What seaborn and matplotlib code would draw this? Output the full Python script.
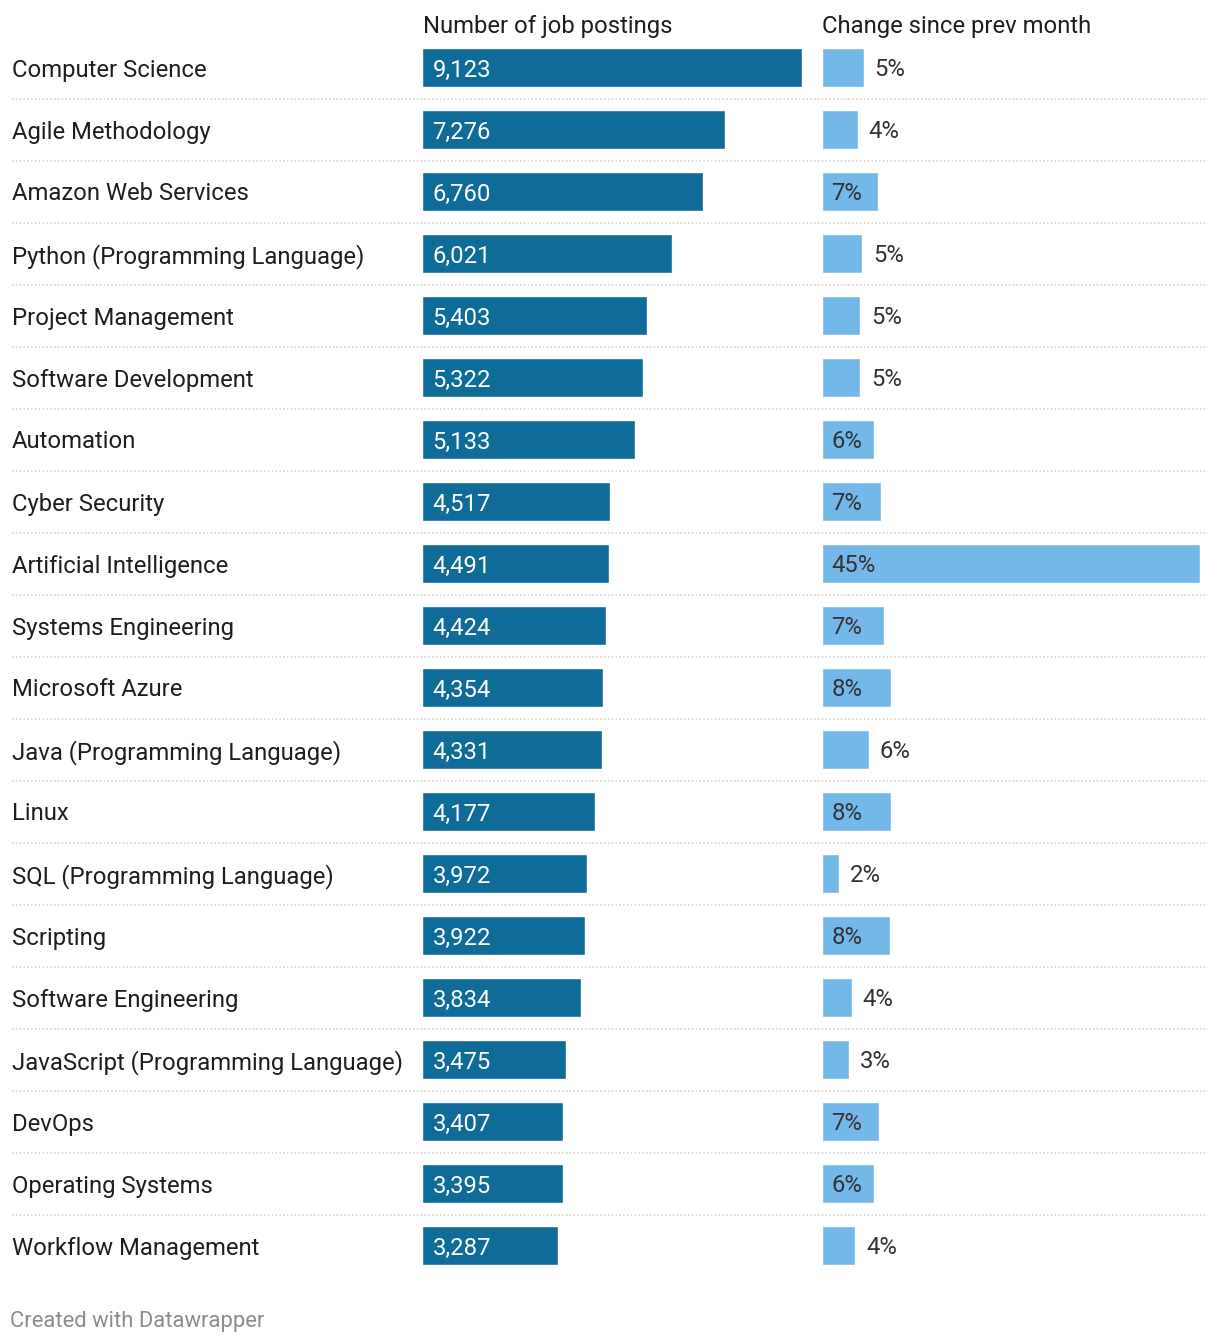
import pandas as pd
import matplotlib.pyplot as plt
import seaborn as sns

# ==== Data ====
skills = [
    "Computer Science", "Agile Methodology", "Amazon Web Services",
    "Python (Programming Language)", "Project Management", "Software Development",
    "Automation", "Cyber Security", "Artificial Intelligence", "Systems Engineering",
    "Microsoft Azure", "Java (Programming Language)", "Linux",
    "SQL (Programming Language)", "Scripting", "Software Engineering",
    "JavaScript (Programming Language)", "DevOps", "Operating Systems",
    "Workflow Management",
]
postings = [9123, 7276, 6760, 6021, 5403, 5322, 5133, 4517, 4491, 4424,
            4354, 4331, 4177, 3972, 3922, 3834, 3475, 3407, 3395, 3287]
change = [5.0, 4.3, 6.7, 4.8, 4.6, 4.6, 6.2, 7.1, 45.0, 7.4,
          8.3, 5.6, 8.3, 2.1, 8.1, 3.6, 3.3, 6.9, 6.2, 4.0]

df = pd.DataFrame({"skill": skills, "postings": postings, "change": change})

# ==== Style ====
sns.set_style("white")
plt.rcParams['font.family'] = ['Roboto', 'DejaVu Sans']
DARK = "#0f6b97"
LIGHT = "#74b8ea"
TXT = "#1e1e1e"
FS = 17.2

W, H = 1220, 1342
fig = plt.figure(figsize=(W / 100, H / 100), dpi=100)

# row band: top at 37px, bottom at 1277px
top_px, bot_px = 36.5, 1276.5
bottom = 1 - bot_px / H
height = (bot_px - top_px) / H

def px_axes(x0, x1):
    return fig.add_axes([x0 / W, bottom, (x1 - x0) / W, height])

# overlay for labels + separators
ax_bg = px_axes(12, 1208)
ax_bg.set_xlim(0, 1)
ax_bg.set_ylim(len(skills) - 0.5, -0.5)
for i in range(len(skills) - 1):
    ax_bg.axhline(i + 0.5, color="#cccccc", lw=1.1, ls=(0, (1, 1.5)))
for i, s in enumerate(skills):
    ax_bg.text(0, i, s, ha="left", va="center_baseline", fontsize=FS, color=TXT)
ax_bg.axis("off")

# ==== Number of job postings ====
ax1 = px_axes(421.5, 801.5)
sns.barplot(data=df, x="postings", y="skill", ax=ax1, color=DARK,
            saturation=1, width=0.645, orient="h")
ax1.set_xlim(0, max(postings))
ax1.set_ylim(len(skills) - 0.5, -0.5)
for i, v in enumerate(postings):
    ax1.annotate(f"{v:,}", (0, i), xytext=(8, 0), textcoords="offset points",
                 ha="left", va="center_baseline", fontsize=FS, color="white")

# ==== Change since prev month ====
ax2 = px_axes(821.5, 1199.5)
sns.barplot(data=df, x="change", y="skill", ax=ax2, color=LIGHT,
            saturation=1, width=0.645, orient="h")
ax2.set_xlim(0, max(change))
ax2.set_ylim(len(skills) - 0.5, -0.5)
for i, v in enumerate(change):
    if v >= 6:
        ax2.annotate(f"{v:.0f}%", (0, i), xytext=(7, 0), textcoords="offset points",
                     ha="left", va="center_baseline", fontsize=FS, color="#333333")
    else:
        ax2.annotate(f"{v:.0f}%", (v, i), xytext=(8, 0), textcoords="offset points",
                     ha="left", va="center_baseline", fontsize=FS, color="#333333")

for ax in (ax1, ax2):
    ax.set_xlabel("")
    ax.set_ylabel("")
    ax.set_xticks([])
    ax.set_yticks([])
    ax.patch.set_alpha(0)
    sns.despine(ax=ax, left=True, bottom=True)

# ==== Headers / footer ====
fig.text(423 / W, 1 - 24 / H, "Number of job postings", ha="left",
         va="center_baseline", fontsize=FS, color=TXT)
fig.text(822 / W, 1 - 24 / H, "Change since prev month", ha="left",
         va="center_baseline", fontsize=FS, color=TXT)
fig.text(10 / W, 1 - 1319 / H, "Created with Datawrapper", ha="left",
         va="center_baseline", fontsize=15.8, color="#8c8c8c")

plt.savefig("out.png", dpi=100)
